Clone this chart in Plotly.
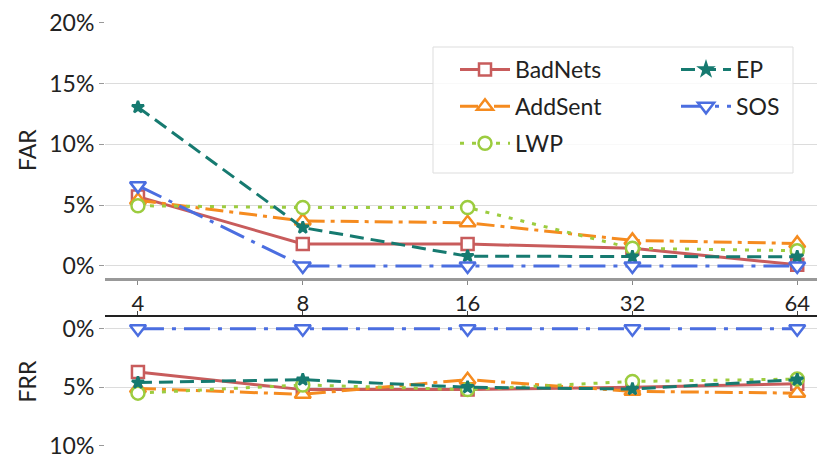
import plotly.graph_objects as go
from plotly.subplots import make_subplots

batch = ["4", "8", "16", "32", "64"]
methods = ["BadNets", "AddSent", "LWP", "EP", "SOS"]
far = {
    "BadNets": [5.7, 1.8, 1.8, 1.45, 0.1],
    "AddSent": [5.4, 3.7, 3.55, 2.1, 1.85],
    "LWP": [4.95, 4.8, 4.8, 1.45, 1.25],
    "EP": [13.05, 3.15, 0.8, 0.75, 0.75],
    "SOS": [6.6, 0.0, 0.0, 0.0, 0.0],
}
frr = {
    "BadNets": [3.7, 5.2, 5.2, 5.0, 4.7],
    "AddSent": [5.1, 5.6, 4.35, 5.35, 5.5],
    "LWP": [5.5, 4.8, 5.2, 4.5, 4.3],
    "EP": [4.6, 4.35, 5.0, 5.15, 4.35],
    "SOS": [0.0, 0.0, 0.0, 0.0, 0.0],
}
far_ticks = [0, 5, 10, 15, 20]
frr_ticks = [0, 5, 10]

colors = {"BadNets": "#c85c5c", "AddSent": "#f58b1f", "LWP": "#9ccc3f",
          "EP": "#167a70", "SOS": "#4b6ee0"}
dashes = {"BadNets": "solid", "AddSent": "18px,6px,4px,6px", "LWP": "4px,8px",
          "EP": "14px,7px", "SOS": "26px,8px,4px,8px"}
symbols = {"BadNets": "square", "AddSent": "triangle-up",
           "LWP": "circle", "EP": "star", "SOS": "triangle-down"}
legend_of = {"BadNets": "legend", "AddSent": "legend", "LWP": "legend",
             "EP": "legend2", "SOS": "legend2"}

fig = make_subplots(rows=2, cols=1, shared_xaxes=False, vertical_spacing=0)

for m in methods:
    sz = {"EP": 9, "BadNets": 12, "LWP": 13}.get(m, 14)
    for row, data in ((1, far), (2, frr)):
        fig.add_trace(go.Scatter(
            x=batch, y=data[m], name=m, mode="lines+markers",
            legendgroup=m, showlegend=(row == 1), legend=legend_of[m],
            line=dict(color=colors[m], width=3, dash=dashes[m]),
            marker=dict(symbol=symbols[m], size=sz,
                        color=colors[m] if m == "EP" else "white",
                        line=dict(color=colors[m], width=2.5)),
        ), row=row, col=1)

font = "Lato, 'Noto Sans', sans-serif"
leg_common = dict(orientation="v", yanchor="top", xanchor="left",
                  bgcolor="rgba(0,0,0,0)", borderwidth=0, itemwidth=50,
                  tracegroupgap=4, font=dict(size=23, family=font, color="#222"))
fig.update_layout(
    width=817, height=462,
    margin=dict(l=105, r=0, t=22, b=16),
    paper_bgcolor="white", plot_bgcolor="white",
    font=dict(family=font, size=22, color="#222"),
    legend=dict(x=(455 - 105) / 712, y=(446 - 48) / 424, **leg_common),
    legend2=dict(x=(676 - 105) / 712, y=(446 - 48) / 424, **leg_common),
    shapes=[dict(type="rect", xref="paper", yref="paper", layer="above",
                 x0=(433 - 105) / 712, x1=(793 - 105) / 712,
                 y0=(446 - 173) / 424, y1=(446 - 47) / 424,
                 fillcolor="rgba(255,255,255,0.82)",
                 line=dict(color="#dddddd", width=1))],
)
fig.update_xaxes(type="category", range=[-0.2, 4.12], showgrid=False, zeroline=False)
fig.update_xaxes(row=1, col=1, showline=True, linecolor="#999999", linewidth=2.5,
                 ticks="outside", ticklen=4, tickcolor="#888888",
                 tickfont=dict(size=22), showticklabels=True)
fig.update_xaxes(row=2, col=1, side="top", showline=True, linecolor="#222222",
                 linewidth=1.5, ticks="outside", ticklen=4, tickcolor="#444",
                 showticklabels=False)
fig.update_yaxes(row=1, col=1, domain=[0.396, 1.0], range=[-1, 20.05],
                 tickvals=far_ticks, ticktext=[f"{v}%" for v in far_ticks],
                 showgrid=True, gridcolor="#dcdcdc", gridwidth=1, zeroline=False,
                 ticks="outside", ticklen=5, tickcolor="#999", showline=False,
                 tickfont=dict(size=23),
                 title=dict(text="FAR", standoff=6, font=dict(size=23)))
fig.update_yaxes(row=2, col=1, domain=[0.0, 0.304], range=[10.02, -1],
                 tickvals=frr_ticks, ticktext=[f"{v}%" for v in frr_ticks],
                 showgrid=True, gridcolor="#dcdcdc", gridwidth=1, zeroline=False,
                 ticks="outside", ticklen=5, tickcolor="#999", showline=False,
                 tickfont=dict(size=23),
                 title=dict(text="FRR", standoff=6, font=dict(size=23)))

fig.write_html("out.html", config={"displayModeBar": False},
               post_script="document.body.style.margin='0';")
